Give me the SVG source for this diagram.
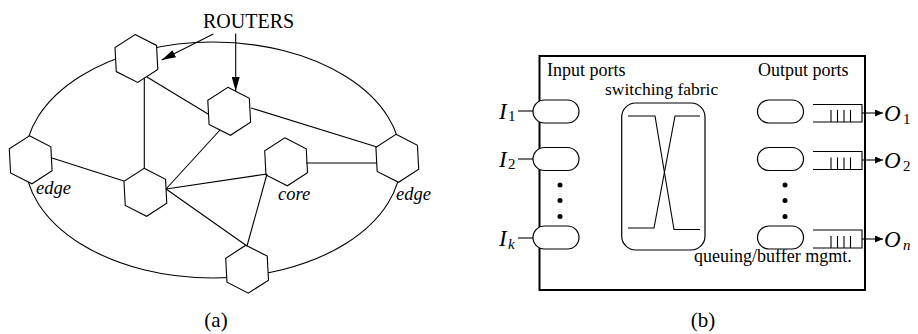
<svg xmlns="http://www.w3.org/2000/svg" xmlns:xlink="http://www.w3.org/1999/xlink" width="918" height="334" viewBox="0 0 918 334">
<style>
.ln{stroke:#000;stroke-width:1.1;fill:none}
.hx{fill:#fff;stroke:#000;stroke-width:1.1}
.t{font-family:"Liberation Serif","Times New Roman",serif;fill:#000}
.it{font-family:"Liberation Serif","Times New Roman",serif;font-style:italic;fill:#000}
.pill{fill:#fff;stroke:#000;stroke-width:1.2}
.buf{fill:none;stroke:#000;stroke-width:1.1}
.dot{fill:#000}
</style>
<defs>
<polygon id="hex" points="-1.26,-23.97 20.14,-13.07 21.40,10.89 1.26,23.97 -20.14,13.07 -21.40,-10.89"/>
<marker id="ah" markerUnits="userSpaceOnUse" markerWidth="14" markerHeight="8" refX="14" refY="4" orient="auto" viewBox="0 0 14 8"><path d="M0,0 L14,4 L0,8 z" fill="#000"/></marker>
<marker id="ahs" markerUnits="userSpaceOnUse" markerWidth="8" markerHeight="7" refX="8" refY="3.5" orient="auto" viewBox="0 0 8 7"><path d="M0,0 L8,3.5 L0,7 z" fill="#000"/></marker>
</defs>

<!-- Panel (a) -->
<ellipse id="network-boundary" class="ln" cx="213" cy="160" rx="188" ry="118"/>

<g id="router1"><use xlink:href="#hex" href="#hex" class="hx" x="136.4" y="58.5"/></g>
<g id="router2"><use xlink:href="#hex" href="#hex" class="hx" x="229.2" y="111.3"/></g>
<g id="router3-edge"><use xlink:href="#hex" href="#hex" class="hx" x="30.7" y="159.8"/>
<text class="it" x="36" y="194" font-size="18.5">edge</text></g>
<g id="router4"><use xlink:href="#hex" href="#hex" class="hx" x="145.4" y="192.3"/></g>
<g id="router5-core"><use xlink:href="#hex" href="#hex" class="hx" x="286.1" y="161.8"/>
<text class="it" x="278" y="200" font-size="18.5">core</text></g>
<g id="router6-edge"><use xlink:href="#hex" href="#hex" class="hx" x="397.3" y="158.3"/>
<text class="it" x="396" y="200" font-size="18.5">edge</text></g>
<g id="router7"><use xlink:href="#hex" href="#hex" class="hx" x="247.1" y="269.2"/></g>

<g id="routers-label"><text class="t" x="203" y="28" font-size="20">ROUTERS</text></g>

<g id="connectors">
<line class="ln" x1="144.3" y1="78" x2="144.3" y2="168.5"/>
<line class="ln" x1="147" y1="77" x2="208" y2="114"/>
<line class="ln" x1="251" y1="108" x2="377" y2="147"/>
<line class="ln" x1="220" y1="130" x2="166" y2="189"/>
<line class="ln" x1="52" y1="158" x2="124" y2="181"/>
<line class="ln" x1="166" y1="189" x2="267" y2="174"/>
<line class="ln" x1="166" y1="189" x2="247" y2="246"/>
<line class="ln" x1="267" y1="174" x2="247" y2="246"/>
<line class="ln" x1="306" y1="163" x2="377" y2="163"/>
<line class="ln" x1="213.3" y1="34" x2="161.7" y2="60" marker-end="url(#ah)"/>
<line class="ln" x1="235.7" y1="33.5" x2="235.7" y2="91" marker-end="url(#ah)"/>
<!-- panel (b) port connectors -->
<line class="ln" x1="518" y1="111" x2="533" y2="111"/>
<line class="ln" x1="518" y1="159" x2="533" y2="159"/>
<line class="ln" x1="518" y1="238" x2="533" y2="238"/>
<line class="ln" x1="862" y1="113" x2="883" y2="113" marker-end="url(#ahs)"/>
<line class="ln" x1="862" y1="160" x2="883" y2="160" marker-end="url(#ahs)"/>
<line class="ln" x1="862" y1="239" x2="883" y2="239" marker-end="url(#ahs)"/>
</g>

<text class="t" x="216" y="327" font-size="21" text-anchor="middle">(a)</text>

<!-- Panel (b) -->
<g id="router-box">
<rect x="539.5" y="56" width="325.5" height="234" fill="none" stroke="#000" stroke-width="2"/>
<text class="t" x="547" y="76" font-size="18">Input ports</text>
<text class="t" x="758" y="76" font-size="18">Output ports</text>
<text class="t" x="694" y="262" font-size="18">queuing/buffer mgmt.</text>
</g>

<g id="input-port-1">
<rect class="pill" x="533" y="100" width="46" height="23" rx="11.5"/>
<text class="it" x="499" y="118.5" font-size="23">I</text><text class="t" x="508" y="121" font-size="15">1</text>
</g>
<g id="input-port-2">
<rect class="pill" x="533" y="147.5" width="46" height="23" rx="11.5"/>
<text class="it" x="499" y="166.5" font-size="23">I</text><text class="t" x="508" y="169" font-size="15">2</text>
</g>
<g id="input-dots">
<circle class="dot" cx="560" cy="185" r="2.5"/><circle class="dot" cx="560" cy="200.5" r="2.5"/><circle class="dot" cx="560" cy="216.5" r="2.5"/>
</g>
<g id="input-port-k">
<rect class="pill" x="533" y="226" width="46" height="23" rx="11.5"/>
<text class="it" x="499" y="245.5" font-size="23">I</text><text class="it" x="508" y="249" font-size="15">k</text>
</g>

<g id="switching-fabric">
<text class="t" x="605" y="95" font-size="17.5">switching fabric</text>
<rect x="621.7" y="103" width="83.3" height="147" rx="14" fill="none" stroke="#000" stroke-width="1.2"/>
<polyline class="ln" points="628,116 655,116 674,229.5 700,229.5"/>
<polyline class="ln" points="628,228 654,228 675,116 700,116"/>
</g>

<g id="output-port-1">
<rect class="pill" x="757.5" y="100" width="46" height="23" rx="11.5"/>
<path class="buf" d="M813,104.5 H862 V122 H813"/>
<path class="buf" d="M831,110 V122 M837.5,110 V122 M844,110 V122 M850.5,110 V122"/>
<text class="it" x="884" y="121" font-size="23">O</text><text class="t" x="903" y="124" font-size="15">1</text>
</g>
<g id="output-port-2">
<rect class="pill" x="757.5" y="147.5" width="46" height="23" rx="11.5"/>
<path class="buf" d="M813,151.5 H862 V169.5 H813"/>
<path class="buf" d="M831,157.5 V169.5 M837.5,157.5 V169.5 M844,157.5 V169.5 M850.5,157.5 V169.5"/>
<text class="it" x="884" y="168" font-size="23">O</text><text class="t" x="903" y="171" font-size="15">2</text>
</g>
<g id="output-dots">
<circle class="dot" cx="785" cy="185" r="2.5"/><circle class="dot" cx="785" cy="200.5" r="2.5"/><circle class="dot" cx="785" cy="216.5" r="2.5"/>
</g>
<g id="output-port-n">
<rect class="pill" x="757.5" y="226" width="46" height="23" rx="11.5"/>
<path class="buf" d="M813,230 H862 V248 H813"/>
<path class="buf" d="M831,236 V248 M837.5,236 V248 M844,236 V248 M850.5,236 V248"/>
<text class="it" x="884" y="247" font-size="23">O</text><text class="it" x="903" y="250" font-size="15">n</text>
</g>

<text class="t" x="703" y="327" font-size="21" text-anchor="middle">(b)</text>
</svg>
